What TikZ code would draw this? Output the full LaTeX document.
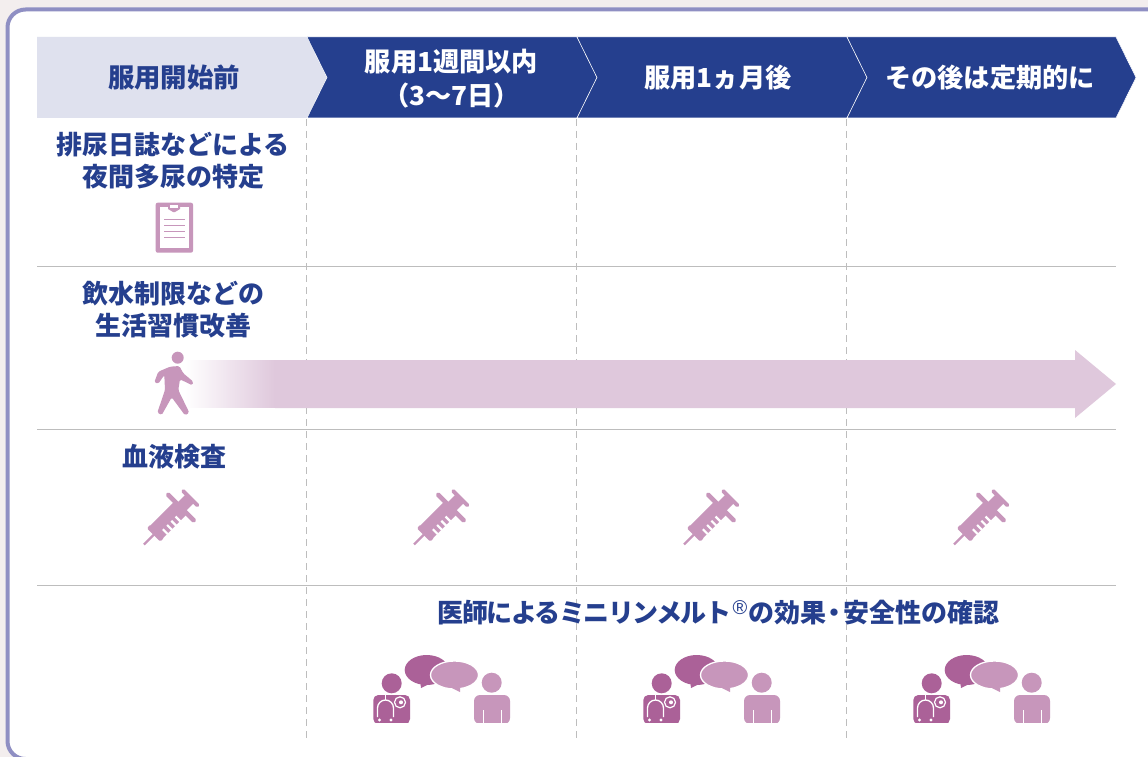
\documentclass[tikz,border=0pt]{standalone}
\usepackage{fontspec}
\newfontfamily\jpfont{Noto Sans CJK JP}
\newfontfamily\symfont{Liberation Sans}
\usepackage{tikz}
\definecolor{navy}{HTML}{253F8E}
\definecolor{paleblue}{HTML}{DFE1EE}
\definecolor{frame}{HTML}{8F8FC3}
\definecolor{backg}{HTML}{F3EEEE}
\definecolor{pink}{HTML}{C796BB}
\definecolor{plum}{HTML}{AB6198}
\definecolor{arrowpink}{HTML}{DFC8DC}
\definecolor{rule}{HTML}{BDBDBD}
\tikzset{
  label/.style={text=navy,font=\jpfont\bfseries\fontsize{26}{32}\selectfont,align=center,inner sep=0pt},
  headlabel/.style={label,text=white,font=\jpfont\bfseries\fontsize{26.2}{34}\selectfont},
  syringe/.pic={
    \fill[pink] (0,-1.2)--(17,-1.2)--(17,1.2)--(0,1.2)--cycle;
    \fill[pink,rounded corners=1.5pt] (13.5,-9.5)rectangle(19,9.5);
    \fill[pink] (18,-9)rectangle(52,9);
    \fill[pink,rounded corners=1.5pt] (50,-20)rectangle(54.5,20);
    \fill[pink] (53,-6)rectangle(64,6);
    \fill[pink,rounded corners=1.5pt] (63.5,-11.5)rectangle(67.5,11.5);
    \foreach \u in {23,29,35,41}
      \fill[white] (\u,2.5)rectangle(\u+2.2,9.2);
  },
  doctor/.pic={
    % speech bubbles
    \fill[plum] (426.7,670) ellipse [x radius=22,y radius=15];
    \fill[plum] (420,680)--(421,688)--(431,683)--cycle;
    \fill[pink,draw=white,line width=1.3pt] (454.5,675) ellipse [x radius=24,y radius=14];
    \fill[pink] (452,688)--(460,692)--(460,688)--cycle;
    % doctor
    \fill[plum] (391.7,683.3) circle [radius=10];
    \fill[plum,rounded corners=5pt] (373.3,724)--(373.3,695)--(410,695)--(410,724)--cycle;
    \fill[white] (373.3,723.3)rectangle(410,725);
    \draw[white,line width=1.3pt] (385.3,695)--(385.3,700);
    \draw[white,line width=1.3pt] (377.5,717)--(377.5,708) arc [start angle=180,end angle=360,radius=8]--(393.5,717);
    \fill[white] (379.5,720) circle [radius=1.7];
    \fill[white] (391,720) circle [radius=1.7];
    \fill[plum,draw=white,line width=1.2pt] (400,702.3) circle [radius=5.5];
    \fill[white] (401,702.3) circle [radius=2];
    % patient
    \fill[pink] (491.7,682.7) circle [radius=10];
    \fill[pink,rounded corners=6pt] (474,724)--(474,695)--(510,695)--(510,724)--cycle;
    \fill[white] (474,723.3)rectangle(510,725);
    \fill[white] (483,710)rectangle(484,724);
    \fill[white] (500.5,710)rectangle(501.5,724);
  }
}
\begin{document}
\begin{tikzpicture}[x=1pt,y=-1pt]
  \useasboundingbox (0,0) rectangle (1148,757);
  \fill[backg] (0,0) rectangle (1148,757);
  \draw[frame,line width=4pt,fill=white,rounded corners=18pt] (7.5,9.5) rectangle (1170,759);
  % header arrows
  \fill[paleblue] (37,37)--(307,37)--(327,77.5)--(307,118)--(37,118)--cycle;
  \foreach \xa/\xb in {307/577,577/847,847/1116}
    \fill[navy,draw=white,line width=0.5pt] (\xa,37)--(\xb,37)--(\xb+20,77.5)--(\xb,118)--(\xa,118)--(\xa+20,77.5)--cycle;
  \node[label,font=\jpfont\bfseries\fontsize{26.4}{32}\selectfont] (start) at (174,77.5) {服用開始前};
  \node[headlabel] (week) at (451.5,79) {服用1週間以内\\（3〜7日）};
  \node[headlabel] (month) at (718,77.5) {服用1ヵ月後};
  \node[headlabel] (later) at (990,77.5) {その後は定期的に};
  % grid
  \foreach \x in {306.7,576.7,846.5}
    \draw[rule,dashed,dash pattern=on 7pt off 5pt,line width=0.9pt] (\x,119)--(\x,740);
  \foreach \y in {266.6,429.6,585}
    \draw[rule,line width=1pt] (37,\y)--(1116,\y);
  % row labels
  \node[label] (diary) at (173,161) {排尿日誌などによる\\夜間多尿の特定};
  \node[label] (habit) at (173,310) {飲水制限などの\\生活習慣改善};
  \node[label] (blood) at (174,457) {血液検査};
  \node[label] (check) at (718.5,613) {{\addfontfeature{LetterSpace=-6}医師によるミニリンメルト}\kern1.5pt\raisebox{8pt}{\symfont\fontsize{20}{20}\selectfont\mdseries ®}\kern1pt の効果\kern-4.5pt・\kern-4.5pt 安全性の確認};
  % clipboard
  \fill[pink,rounded corners=2pt] (155.7,202.7) rectangle (193,252.7);
  \fill[white] (160,207) rectangle (189,248);
  \fill[pink] (168,203)--(180,203)--(180,209)--(175,212)--(173,212)--(168,209)--cycle;
  \fill[white] (170,205) rectangle (178,208);
  \foreach \y in {219.3,225.3,231.3,237.3}
    \fill[pink] (163.5,\y-0.8) rectangle (185,\y+0.8);
  % long arrow
  \foreach \p in {0,...,90}
    \fill[arrowpink!\the\numexpr\p*100/90\relax!white] (185+\p,360) rectangle (276,408);
  \fill[arrowpink] (275,360)--(1075,360)--(1075,350)--(1116,384)--(1075,418)--(1075,408)--(275,408)--cycle;
  % walking man
  \fill[pink] (177.7,357.7) circle [radius=6];
  \fill[pink,rounded corners=1.5pt] (170,366.7)--(179.3,366)--(183.3,373.3)--(193.3,381.7)--(192.3,385.3)--(180,379.3)--(178.3,390)--(189.3,412.7)--(185,415.3)--(171.7,397.3)--(161.7,415)--(157.3,412.7)--(165,390)--(164.3,375)--(158.3,383.7)--(154.3,382.3)--(158.3,371.7)--cycle;
  % syringes
  \foreach \x in {0,270,540,810}
    \pic[rotate=45] at (144+\x,544.5) {syringe};
  % doctor and patient
  \foreach \x in {0,270,540}
    \pic at (\x,0) {doctor};
\end{tikzpicture}
\end{document}
